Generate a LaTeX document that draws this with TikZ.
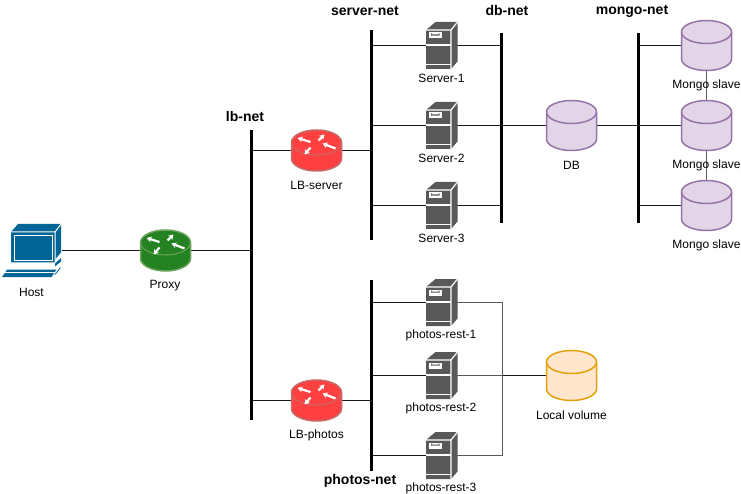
\documentclass[tikz,border=0pt]{standalone}
\usepackage{fontspec}
\setmainfont{Liberation Sans}
\usepackage{tikz}
\usetikzlibrary{arrows.meta,positioning,calc}
\definecolor{Srv}{HTML}{595959}
\definecolor{Blue}{HTML}{036595}
\definecolor{Mauve}{HTML}{E1D5E7}
\definecolor{MauveD}{HTML}{9673A6}
\definecolor{Peach}{HTML}{FFE6CC}
\definecolor{PeachD}{HTML}{E3A008}
\definecolor{RedR}{HTML}{FF4040}
\definecolor{RedD}{HTML}{C46A66}
\definecolor{GreenR}{HTML}{258222}
\definecolor{GreenD}{HTML}{6BA55E}

\tikzset{
  pics/servericon/.style={code={
    \fill[Srv] (-15.5,-15.5) -- (-6,-23.5) -- (16,-23.5) -- (16,16) -- (9.5,23.5) -- (-15.5,23.5) -- cycle;
    \draw[white, line width=1.2pt] (-15.5,-15.5) -- (9.5,-15.5) -- (9.5,23.5) (9.5,-15.5) -- (16,-23.5);
    \draw[white, line width=1.2pt] (-15.5,-0.5) -- (9.5,-0.5) (-15.5,19) -- (9.5,19);
    \fill[white] (-12.5,-13) rectangle (0,-7);
    \fill[Srv] (-10.5,-12) -- (-10.5,-9.8) -- (-2,-9.8) -- (-2,-12) -- (-3,-12) -- (-3,-11) -- (-9.5,-11) -- (-9.5,-12) -- cycle;
  }},
  pics/routericon/.style 2 args={code={
    \fill[#1, draw=#2, line width=1.5pt] (-25,-8) arc[start angle=180, end angle=360, x radius=25, y radius=12.5]
      -- (25,8) arc[start angle=0, end angle=180, x radius=25, y radius=12.5] -- cycle;
    \draw[#2, line width=1pt] (-25,-8) arc[start angle=180, end angle=0, x radius=25, y radius=12.5];
    \draw[routerarr] (-6,-8.5) -- (-19,-12.5);
    \draw[routerarr] (2,-10) -- (8,-16);
    \draw[routerarr] (-6,-3) -- (-12,4);
    \draw[routerarr] (19,-2) -- (6,-7);
  }},
  pics/cylicon/.style 2 args={code={
    \fill[#1, draw=#2, line width=1.5pt] (-25,-13.5) arc[start angle=180, end angle=360, x radius=25, y radius=11.5]
      -- (25,13.5) arc[start angle=0, end angle=180, x radius=25, y radius=11.5] -- cycle;
    \draw[#2, line width=1.5pt] (-25,-13.5) arc[start angle=180, end angle=0, x radius=25, y radius=11.5];
  }},
  pics/hosticon/.style={code={
    \fill[Blue] (-20.5,-18.5) -- (-13.5,-26.5) -- (29.5,-26.5) -- (29.5,2) -- (23.5,9) -- (23.5,12) -- (-20.5,12) -- cycle;
    \draw[white, line width=1pt] (-20.5,-18.5) -- (23.5,-18.5) -- (29.5,-26.5) (23.5,-18.5) -- (23.5,12);
    \draw[white, line width=.8pt] (-17.5,-15.5) rectangle (20.5,9.5);
    \fill[Blue] (29.5,7.5) -- (29.5,11) -- (23.5,16) -- (23.5,13) -- cycle;
    \fill[Blue] (-24.5,19) -- (-29.5,26.5) -- (20,26.5) -- (25,19) -- cycle;
    \draw[white, line width=.8pt] (-27.5,21.5) -- (24,21.5);
    \fill[Blue] (29.5,17) -- (24,24) -- (23,24) -- (28.5,17) -- cycle;
  }},
  routerarr/.style={white, line width=2.2pt, -{Stealth[length=5pt,width=6pt]}},
  icon/.style={inner sep=0pt, outer sep=0pt, minimum width=#1},
  srvbox/.style={icon=31pt, minimum height=47pt},
  rtrbox/.style={icon=50pt, minimum height=41pt},
  cylbox/.style={icon=51pt, minimum height=51pt},
  hostbox/.style={icon=60pt, minimum height=53pt},
  bus/.style={fill=black, inner sep=0pt, outer sep=0pt, minimum width=3pt},
  lbl/.style={font=\fontsize{12}{14}\selectfont, inner sep=0pt},
  netlbl/.style={font=\fontsize{14}{16}\selectfont\bfseries, inner sep=0pt},
  link/.style={line width=1pt, black!90},
  wlink/.style={line width=1.7pt, black!90},
  vlink/.style={line width=1pt, black!65},
}

\begin{document}
\begin{tikzpicture}[x=1pt, y=-1pt]
  \useasboundingbox (0,0) rectangle (741,494);

  % networks
  \node[bus, minimum height=210pt] (servernet) at (371.5,135) {};
  \node[bus, minimum height=190pt] (dbnet) at (501.5,128) {};
  \node[bus, minimum height=190pt] (mongonet) at (638,128) {};
  \node[bus, minimum height=290pt] (lbnet) at (251.5,275) {};
  \node[bus, minimum height=191pt] (photosnet) at (371.5,375.5) {};

  \node[netlbl] at (365,11) {server-net};
  \node[netlbl] at (507,11) {db-net};
  \node[netlbl] at (632,11) {mongo-net};
  \node[netlbl] at (245,116) {lb-net};
  \node[netlbl] at (360,481) {photos-net};

  % invisible boxes the links attach to
  \node[hostbox] (host) at (31.5,250.5) {};
  \node[rtrbox] (proxy) at (165.5,250.5) {};
  \node[rtrbox] (lbserver) at (316.5,150.5) {};
  \node[rtrbox] (lbphotos) at (316.5,400.5) {};
  \node[cylbox] (db) at (571.5,125.5) {};
  \node[cylbox] (volume) at (571.5,375.5) {};
  \foreach \i/\y in {1/45.5,2/125.5,3/205.5} {
    \node[srvbox] (server\i) at (441.5,\y) {};
    \node[cylbox] (mongo\i) at (706.5,\y) {};
  }
  \foreach \i/\y in {1/302.5,2/375.5,3/455.5}
    \node[srvbox] (rest\i) at (441.5,\y) {};
  \coordinate (volbus) at (502.5,375.5);

  % links
  \draw[link] (host) -- (proxy);
  \draw[link] (proxy) -- (proxy -| lbnet);
  \draw[link] (lbserver) -- (lbserver -| lbnet);
  \draw[link] (lbserver) -- (lbserver -| servernet);
  \draw[wlink] (lbphotos) -- (lbphotos -| lbnet);
  \draw[link] (lbphotos) -- (lbphotos -| photosnet);
  \foreach \i in {1,2,3} {
    \draw[link] (server\i) -- (server\i -| servernet);
    \draw[link] (server\i) -- (server\i -| dbnet);
    \draw[link] (rest\i) -- (rest\i -| photosnet);
    \draw[link] (mongo\i) -- (mongo\i -| mongonet);
  }
  \draw[link] (server2) -- (db);
  \draw[link] (db) -- (mongo2);
  \draw[vlink] (mongo1) -- (mongo2);
  \draw[vlink] (mongo2) -- (mongo3);
  \draw[vlink] (rest1) -| (volbus);
  \draw[vlink] (rest3) -| (volbus);
  \draw[vlink] (rest2) -- (volbus);
  \draw[wlink] (volbus) -- (volume);

  % icons
  \pic at (host) {hosticon};
  \pic at (proxy) {routericon={GreenR}{GreenD}};
  \pic at (lbserver) {routericon={RedR}{RedD}};
  \pic at (lbphotos) {routericon={RedR}{RedD}};
  \pic at (db) {cylicon={Mauve}{MauveD}};
  \pic at (volume) {cylicon={Peach}{PeachD}};
  \foreach \i in {1,2,3} {
    \pic at (server\i) {servericon};
    \pic at (rest\i) {servericon};
    \pic at (mongo\i) {cylicon={Mauve}{MauveD}};
  }

  % labels
  \node[lbl] at (31.5,292.5) {Host};
  \node[lbl] at (165,285.5) {Proxy};
  \node[lbl] at (316.5,185) {LB-server};
  \node[lbl] at (316.5,435) {LB-photos};
  \node[lbl] at (571.5,165.5) {DB};
  \node[lbl] at (571.5,415.5) {Local volume};
  \foreach \i/\y in {1/78.5,2/158.5,3/238.5}
    \node[lbl] at (441.5,\y) {Server-\i};
  \foreach \i/\y in {1/335.5,2/408.5,3/488.5}
    \node[lbl] at (441,\y) {photos-rest-\i};
  \foreach \y in {85.5,165.5,245.5}
    \node[lbl] at (706.5,\y) {Mongo slave};
\end{tikzpicture}
\end{document}
